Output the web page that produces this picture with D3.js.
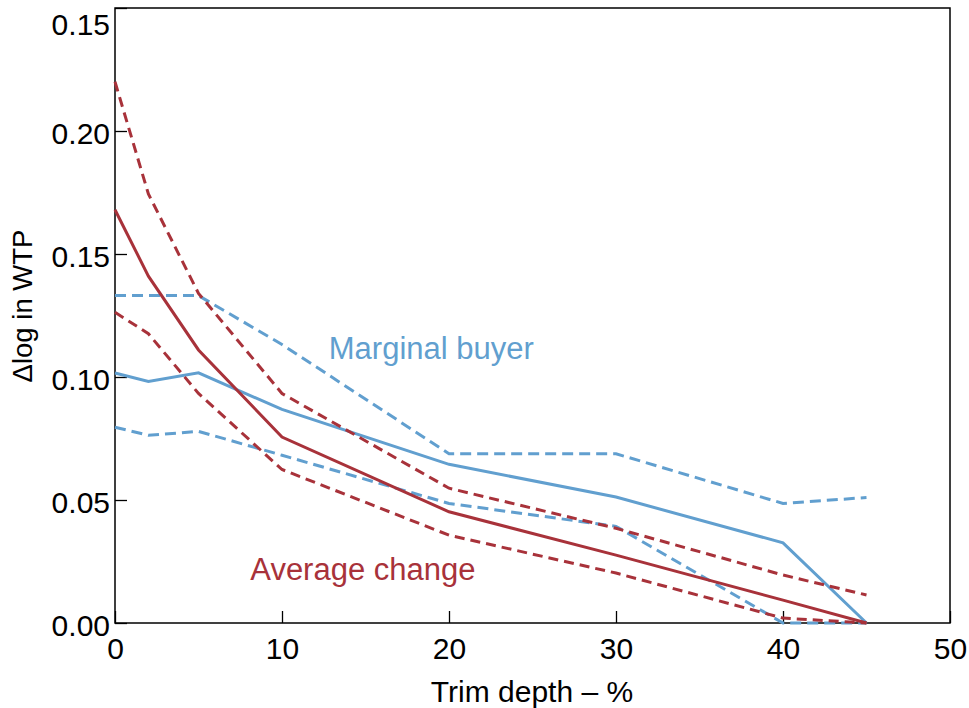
<!DOCTYPE html>
<html>
<head>
<meta charset="utf-8">
<script src="https://cdn.jsdelivr.net/npm/d3@7"></script>
<style>
  body { margin: 0; background: #fff; }
  svg { display: block; font-family: "Liberation Sans", Arial, sans-serif; }
</style>
</head>
<body>
<div id="vis"></div>
<script>
// trim depth (%)
var trimDepth = [0, 2, 5, 10, 20, 30, 40, 45];

// average change: point estimate and band
var avgMid = [0.168, 0.141, 0.111, 0.0756, 0.0452, 0.0276, 0.0093, 0.0];
var avgHigh = [0.220, 0.1744, 0.134, 0.0933, 0.0548, 0.0385, 0.0195, 0.0114];
var avgLow = [0.1263, 0.1176, 0.0933, 0.0624, 0.0357, 0.0203, 0.002, 0.0];

// marginal buyer: point estimate and band
var margMid = [0.1016, 0.0982, 0.1017, 0.0868, 0.0645, 0.0512, 0.0326, 0.0];
var margHigh = [0.1331, 0.1331, 0.1331, 0.1132, 0.0688, 0.0688, 0.0486, 0.051];
var margLow = [0.0796, 0.0763, 0.0779, 0.0682, 0.0486, 0.0393, 0.0, 0.0];

var xTicks = [0, 10, 20, 30, 40, 50];
var yTicks = [0, 0.05, 0.10, 0.15, 0.20, 0.25];
var yTickLabels = ['0.00', '0.05', '0.10', '0.15', '0.20', '0.15'];

var width = 969;
var height = 708;
var margin = { top: 8, right: 19, bottom: 85, left: 115 };

var red = '#a8323a';
var blue = '#619fcf';

var svg = d3.select('#vis')
  .append('svg')
  .attr('width', width)
  .attr('height', height);

var x = d3.scaleLinear()
  .domain([0, 50])
  .range([margin.left, width - margin.right]);

var y = d3.scaleLinear()
  .domain([0, 0.25])
  .range([height - margin.bottom, margin.top]);

// frame
svg.append('rect')
  .attr('x', x(0))
  .attr('y', y(0.25))
  .attr('width', x(50) - x(0))
  .attr('height', y(0) - y(0.25))
  .attr('fill', 'none')
  .attr('stroke', '#000')
  .attr('stroke-width', 1.5);

var xAxis = svg.append('g')
  .attr('transform', 'translate(0,' + y(0) + ')')
  .call(d3.axisBottom(x)
    .tickValues(xTicks)
    .tickSizeInner(-12)
    .tickSizeOuter(0)
    .tickPadding(15)
    .tickFormat(d3.format('d')));

var yAxis = svg.append('g')
  .attr('transform', 'translate(' + x(0) + ',0)')
  .call(d3.axisLeft(y)
    .tickValues(yTicks)
    .tickSizeInner(-12)
    .tickSizeOuter(0)
    .tickPadding(5)
    .tickFormat(function (d, i) { return yTickLabels[i]; }));

[xAxis, yAxis].forEach(function (g) {
  g.select('.domain').remove();
  g.selectAll('.tick line').attr('stroke', '#000').attr('stroke-width', 1.3);
  g.selectAll('.tick text')
    .attr('fill', '#000')
    .style('font-size', '30px')
    .style('font-family', '"Liberation Sans", Arial, sans-serif');
});

yAxis.selectAll('.tick text').attr('dy', '0.4em');
// top label sits lower to stay in view
yAxis.selectAll('.tick text')
  .filter(function (d) { return d === 0.25; })
  .attr('dy', '0.88em');

// axis titles
svg.append('text')
  .attr('x', 532)
  .attr('y', 702)
  .attr('text-anchor', 'middle')
  .style('font-size', '30px')
  .text('Trim depth – %');

svg.append('text')
  .attr('transform', 'translate(32,306) rotate(-90)')
  .attr('text-anchor', 'middle')
  .style('font-size', '27.5px')
  .text('Δlog in WTP');

var line = d3.line()
  .x(function (d) { return x(d[0]); })
  .y(function (d) { return y(d[1]); });

var series = [
  { values: margHigh, color: blue, dash: '11,6' },
  { values: margLow, color: blue, dash: '11,6' },
  { values: margMid, color: blue, dash: null },
  { values: avgHigh, color: red, dash: '10,6' },
  { values: avgLow, color: red, dash: '10,6' },
  { values: avgMid, color: red, dash: null }
];

svg.selectAll('.series')
  .data(series)
  .enter()
  .append('path')
  .attr('class', 'series')
  .attr('d', function (s) {
    return line(trimDepth.map(function (t, i) { return [t, s.values[i]]; }));
  })
  .attr('fill', 'none')
  .attr('stroke', function (s) { return s.color; })
  .attr('stroke-width', 3)
  .attr('stroke-dasharray', function (s) { return s.dash; });

// labels
svg.append('text')
  .attr('x', x(12.8))
  .attr('y', y(0.1074))
  .attr('fill', blue)
  .style('font-size', '31px')
  .text('Marginal buyer');

svg.append('text')
  .attr('x', x(8.1))
  .attr('y', y(0.0174))
  .attr('fill', red)
  .style('font-size', '31px')
  .text('Average change');
</script>
</body>
</html>
